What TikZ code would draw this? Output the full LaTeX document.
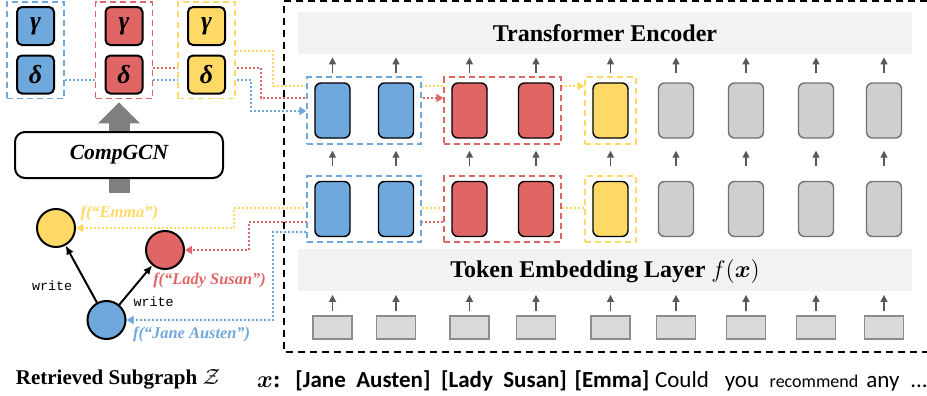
\documentclass[tikz,border=0pt]{standalone}
\usepackage{fontspec}
\usepackage{amsmath}
\setmainfont{Liberation Serif}
\setmonofont{Liberation Mono}
\newfontfamily\calibri{Carlito}
\usetikzlibrary{arrows.meta,positioning,fit}

\definecolor{kgblue}{HTML}{6FA8DC}
\definecolor{kgred}{HTML}{E06666}
\definecolor{kgyellow}{HTML}{FFD966}
\definecolor{cellgray}{HTML}{D0CECE}
\definecolor{cellline}{HTML}{767171}
\definecolor{tokgray}{HTML}{D9D9D9}
\definecolor{tokline}{HTML}{8C8C8C}
\definecolor{bandgray}{HTML}{F2F2F2}
\definecolor{arrgray}{HTML}{595959}
\definecolor{fatgray}{HTML}{7F7F7F}

\pgfdeclarelayer{wires}
\pgfdeclarelayer{frames}
\pgfsetlayers{wires,frames,main}

\def\upy{110.5}
\def\loy{209}
\def\toky{327.5}
\def\wordy{387}

\begin{document}
\begin{tikzpicture}[x=0.5pt,y=-0.5pt]
    \tikzstyle{cell}=[line width=0.7pt,rounded corners=3pt,minimum width=17.5pt,minimum height=27.5pt,inner sep=0pt]
    \tikzstyle{token}=[draw=tokline,fill=tokgray,line width=0.7pt,minimum width=19.5pt,minimum height=11.5pt,inner sep=0pt]
    \tikzstyle{param}=[draw=black,line width=1pt,rounded corners=2.5pt,minimum width=18.5pt,minimum height=19pt,inner sep=0pt,font=\fontsize{13}{15}\selectfont\bfseries\itshape]
    \tikzstyle{group}=[draw=#1,dash pattern=on 3pt off 2pt,line width=0.9pt,fill=white,inner xsep=3.5pt,inner ysep=2.5pt]
    \tikzstyle{entity}=[circle,draw=black,line width=1pt,minimum size=19pt,inner sep=0pt]
    \tikzstyle{band}=[fill=bandgray,minimum width=307pt,minimum height=21pt,inner sep=0pt,text height=8pt,text depth=0pt,font=\fontsize{12}{14}\selectfont\bfseries]
    \tikzstyle{link}=[dash pattern=on 1pt off 1pt,line width=1pt,-{Triangle[length=3.5pt,width=4pt]}]
    \tikzstyle{flow}=[draw=arrgray,line width=0.75pt,-{Triangle[length=3.5pt,width=3.5pt]}]
    \tikzstyle{word}=[anchor=base,inner sep=0pt,font=\calibri\fontsize{11.5}{13}\selectfont]
    \tikzstyle{fname}=[inner sep=0pt,font=\fontsize{8.2}{10}\selectfont\bfseries\itshape]
    \useasboundingbox (0,0) rectangle (927,396);

    % Encoder and embedding layers
    \node[band] (enc) at (605,33) {Transformer Encoder};
    \node[band] (emb) at (605,269.5) {Token Embedding Layer $f(\boldsymbol{x})$};

    % Cells of both encoder rows and the input tokens
    \foreach \i/\x/\c/\d in {1/332.5/kgblue/black,2/396/kgblue/black,3/469.5/kgred/black,4/536/kgred/black,5/610.5/kgyellow/black,6/676/cellgray/cellline,7/746/cellgray/cellline,8/816/cellgray/cellline,9/884/cellgray/cellline}{
        \node[cell,fill=\c,draw=\d] (h\i) at (\x,\upy) {};
        \node[cell,fill=\c,draw=\d] (e\i) at (\x,\loy) {};
        \node[token] (t\i) at (\x,\toky) {};
        \draw[flow,shorten <=4.5pt,shorten >=1.5pt] (h\i.north) -- (h\i.north |- enc.south);
        \draw[flow,shorten <=7.5pt,shorten >=6pt] (e\i.north) -- (h\i.south);
        \draw[flow,shorten <=2pt,shorten >=2pt] (t\i.north) -- (t\i.north |- emb.south);
    }

    % Input words
    \node[word,font=\calibri\fontsize{11.5}{13}\selectfont\bfseries] (w1) at (363,\wordy) {[Jane\ \ Austen]};
    \node[word,font=\calibri\fontsize{11.5}{13}\selectfont\bfseries] (w2) at (504,\wordy) {[Lady\ \ Susan]};
    \node[word,font=\calibri\fontsize{11.5}{13}\selectfont\bfseries] (w3) at (612,\wordy) {[Emma]};
    \node[word] (w4) at (682,\wordy) {Could};
    \node[word] (w5) at (742,\wordy) {you};
    \node[word,font=\calibri\fontsize{9}{11}\selectfont] (w6) at (814,\wordy) {recommend};
    \node[word] (w7) at (883,\wordy) {any};
    \node[word] (w8) at (919,\wordy) {...};
    \node[anchor=base,inner sep=0pt,font=\fontsize{12}{14}\selectfont] (xin) at (269,\wordy) {$\boldsymbol{x}$\textbf{:}};

    % Relation parameters from CompGCN
    \node[param,fill=kgblue] (gb) at (35.5,26) {γ};
    \node[param,fill=kgblue] (db) at (35.5,74.5) {δ};
    \node[param,fill=kgred] (gr) at (124,26) {γ};
    \node[param,fill=kgred] (dr) at (124,74.5) {δ};
    \node[param,fill=kgyellow] (gy) at (206.5,26) {γ};
    \node[param,fill=kgyellow] (dy) at (206.5,74.5) {δ};
    \node[draw,line width=1pt,rounded corners=5pt,minimum width=104pt,minimum height=23pt,font=\fontsize{10.8}{13}\selectfont\bfseries\itshape] (gcn) at (119,155) {CompGCN};

    % Retrieved subgraph
    \node[entity,fill=kgyellow] (emma) at (56,228) {};
    \node[entity,fill=kgred] (lady) at (165,250) {};
    \node[entity,fill=kgblue] (jane) at (106.5,320) {};
    \path (jane) edge[-{Latex[length=4.5pt,width=4pt]},line width=1pt] node[pos=0.35,left=3pt,yshift=-1.5pt,font=\ttfamily\fontsize{6.7}{8}\selectfont] {write} (emma);
    \path (jane) edge[-{Latex[length=4.5pt,width=4pt]},line width=1pt] node[pos=0.2,right=0pt,yshift=-2.5pt,font=\ttfamily\fontsize{6.7}{8}\selectfont] {write} (lady);
    \node[fname,text=kgyellow,right=5pt of emma.north east] (femma) {f(“Emma”)};
    \node[fname,text=kgred,below right=4pt and 1pt of lady.south west] (flady) {f(“Lady Susan”)};
    \node[fname,text=kgblue,right=6pt of jane.south east] (fjane) {f(“Jane Austen”)};
    \node[anchor=base,inner sep=0pt,font=\fontsize{10.5}{12}\selectfont\bfseries] (sub) at (118,384) {Retrieved Subgraph $\mathcal{Z}$};

    % Dashed groups
    \begin{pgfonlayer}{frames}
        \node[group=kgblue,fit=(gb)(db),inner xsep=4.5pt,inner ysep=2pt] (kb) {};
        \node[group=kgred,fit=(gr)(dr),inner xsep=4.5pt,inner ysep=2pt] (kr) {};
        \node[group=kgyellow,fit=(gy)(dy),inner xsep=4.5pt,inner ysep=2pt] (ky) {};
        \node[group=kgblue,fit=(h1)(h2)] (hb) {};
        \node[group=kgred,fit=(h3)(h4)] (hr) {};
        \node[group=kgyellow,fit=(h5)] (hy) {};
        \node[group=kgblue,fit=(e1)(e2)] (eb) {};
        \node[group=kgred,fit=(e3)(e4)] (er) {};
        \node[group=kgyellow,fit=(e5)] (ey) {};
    \end{pgfonlayer}

    % Dotted links between the graph and the encoder
    \begin{pgfonlayer}{wires}
        \draw[link,kgblue] (kb.east |- 0,80) -| (251,111) -- (hb.west |- 0,111);
        \draw[link,kgred] (kr.east |- 0,68) -| (261,98) -- (hr.west |- 0,98);
        \draw[link,kgyellow] (ky.east |- 0,51) -| (273,86) -- (hy.west |- 0,86);
        \draw[link,kgyellow] (ey.west |- 0,208) -| (234,228) -- (emma.east);
        \draw[link,kgred] (er.west |- 0,222) -| (249,250) -- (lady.east);
        \draw[link,kgblue] (eb.west |- 0,232) -| (273,320) -- (jane.east);
    \end{pgfonlayer}

    % CompGCN arrow
    \draw[fatgray,line width=10.5pt,shorten >=1.5pt,-{Triangle[length=10.5pt,width=21pt,line width=0pt]}] (gcn.north) -- (gcn.north |- kr.south);
    \draw[fatgray,line width=10.5pt] (gcn.south) -- ++(0,14);

    % Language model frame
    \draw[line width=1pt,dash pattern=on 3.5pt off 2.5pt] (927,1) -| (284,352) -- (927,352);
\end{tikzpicture}
\end{document}
